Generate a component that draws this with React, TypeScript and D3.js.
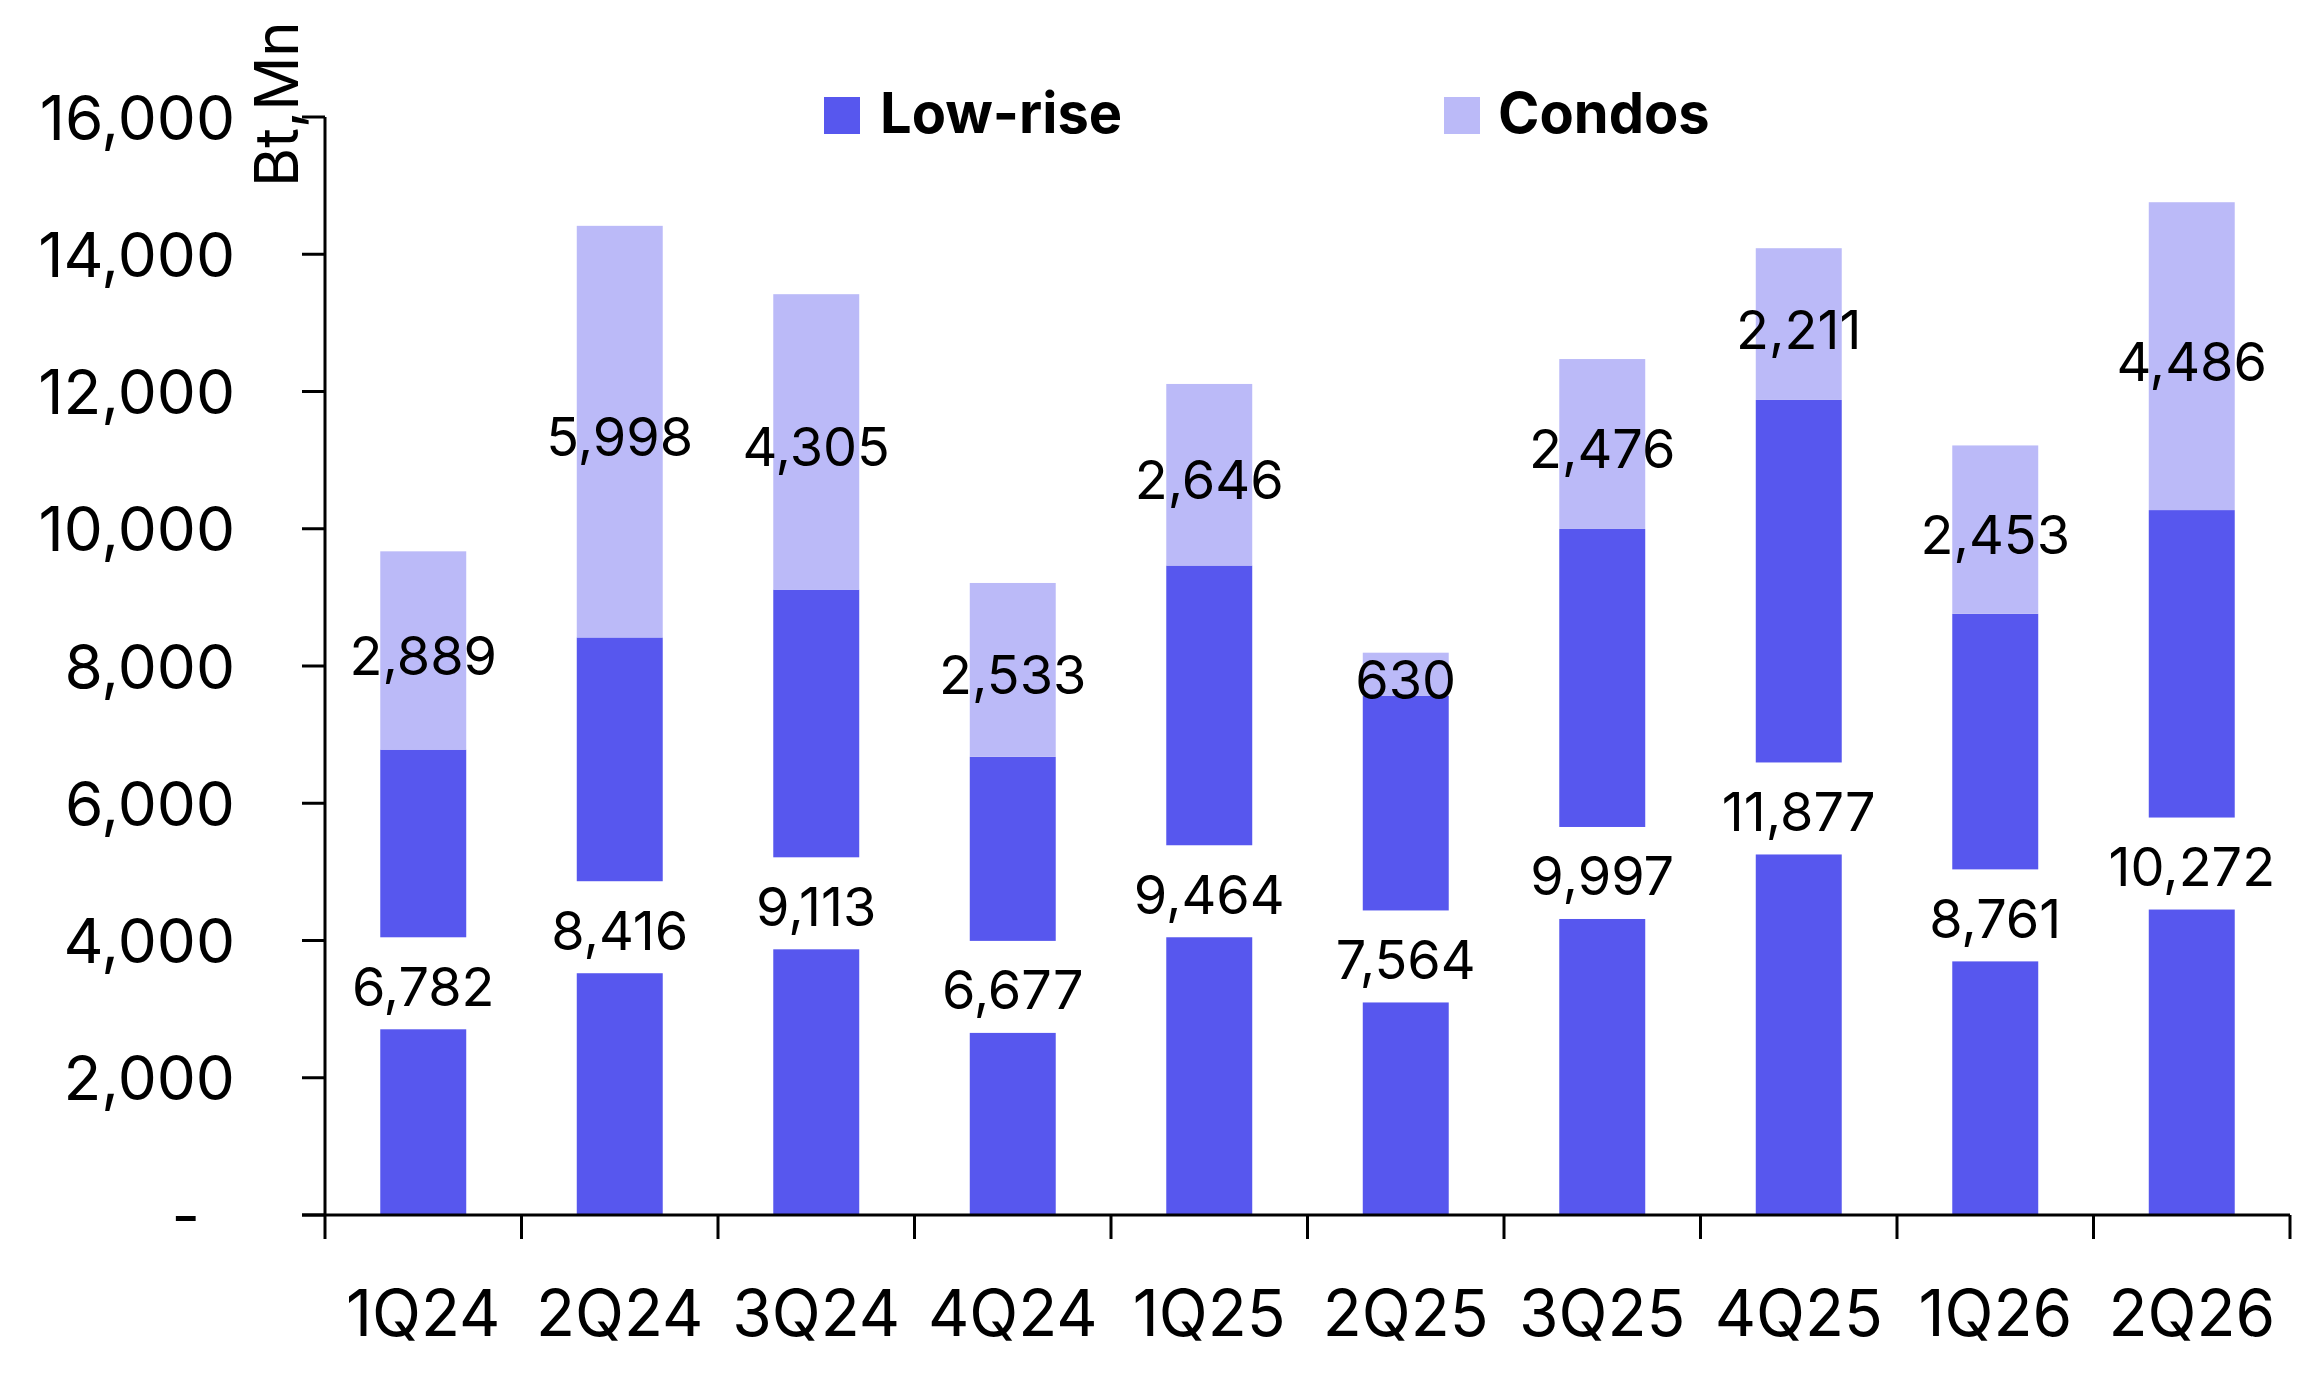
import React from 'react';
import * as d3 from 'd3';

const quarters = ['1Q24', '2Q24', '3Q24', '4Q24', '1Q25', '2Q25', '3Q25', '4Q25', '1Q26', '2Q26'];
const lowRise = [6782, 8416, 9113, 6677, 9464, 7564, 9997, 11877, 8761, 10272];
const condos = [2889, 5998, 4305, 2533, 2646, 630, 2476, 2211, 2453, 4486];
const yTicks = [0, 2000, 4000, 6000, 8000, 10000, 12000, 14000, 16000];

const W = 2301;
const H = 1378;
const FONT = 'Inter, "Liberation Sans", Arial, sans-serif';
const LOW_COLOR = '#5757EE';
const CONDO_COLOR = '#BBBAF8';

const App = () => {
  const x = d3
    .scaleBand<string>()
    .domain(quarters)
    .range([325, 2290])
    .paddingInner(0.5625)
    .paddingOuter(0.28125);

  const y = d3.scaleLinear().domain([0, 16000]).range([1215, 117]);
  const fmt = d3.format(',');
  const step = x.step();
  const bw = x.bandwidth();

  const rows = quarters.map((q, i) => ({ q, low: lowRise[i], condo: condos[i] }));
  const stack = d3.stack<any>().keys(['low', 'condo'])(rows);

  return (
    <svg
      width={W}
      height={H}
      style={{ position: 'absolute', left: 0, top: 0, background: 'white' }}
      fontFamily={FONT}
    >
      {/* stacked bars */}
      {stack.map((layer, li) => (
        <g key={layer.key} fill={li === 0 ? LOW_COLOR : CONDO_COLOR}>
          {layer.map((d, i) => (
            <rect
              key={i}
              x={x(quarters[i])}
              y={y(d[1])}
              width={bw}
              height={y(d[0]) - y(d[1])}
            />
          ))}
        </g>
      ))}

      {/* low-rise labels sit on a white box inside the segment */}
      {rows.map((r) => {
        const cx = (x(r.q) as number) + bw / 2;
        const cy = y(r.low / 2);
        return (
          <g key={'low' + r.q}>
            <rect x={cx - bw / 2 - 2} y={cy - 45} width={bw + 4} height={92} fill="white" />
            <text x={cx} y={cy + 4} textAnchor="middle" dominantBaseline="central" fontSize={54} fill="#000">
              {fmt(r.low)}
            </text>
          </g>
        );
      })}

      {/* condo labels */}
      {rows.map((r) => {
        const cx = (x(r.q) as number) + bw / 2;
        const cy = y(r.low + r.condo / 2);
        return (
          <text key={'condo' + r.q} x={cx} y={cy + 5} textAnchor="middle" dominantBaseline="central" fontSize={54} fill="#000">
            {fmt(r.condo)}
          </text>
        );
      })}

      {/* y axis */}
      <line x1={325} x2={325} y1={y(16000)} y2={y(0)} stroke="#000" strokeWidth={3} />
      {yTicks.map((t) => (
        <g key={t}>
          <line x1={302} x2={325} y1={y(t)} y2={y(t)} stroke="#000" strokeWidth={3} />
          <text
            x={t === 0 ? 200 : 235}
            y={y(t)}
            textAnchor="end"
            dominantBaseline="central"
            fontSize={62}
            fill="#000"
          >
            {t === 0 ? '-' : fmt(t)}
          </text>
        </g>
      ))}
      <text transform={`translate(298,187) rotate(-90)`} fontSize={60} fill="#000">
        Bt,Mn
      </text>

      {/* x axis */}
      <line x1={302} x2={2290} y1={y(0)} y2={y(0)} stroke="#000" strokeWidth={3} />
      {d3.range(quarters.length + 1).map((i) => (
        <line
          key={i}
          x1={325 + i * step}
          x2={325 + i * step}
          y1={y(0)}
          y2={y(0) + 24}
          stroke="#000"
          strokeWidth={3}
        />
      ))}
      {quarters.map((q) => (
        <text key={q} x={(x(q) as number) + bw / 2} y={1336} textAnchor="middle" fontSize={64} fill="#000">
          {q}
        </text>
      ))}

      {/* legend */}
      <rect x={824} y={97} width={36} height={37} fill={LOW_COLOR} />
      <text x={880} y={133} fontSize={56} fontWeight={650} fill="#000">
        Low-rise
      </text>
      <rect x={1444} y={97} width={36} height={37} fill={CONDO_COLOR} />
      <text x={1498} y={133} fontSize={56} fontWeight={650} fill="#000">
        Condos
      </text>
    </svg>
  );
};

export default App;
